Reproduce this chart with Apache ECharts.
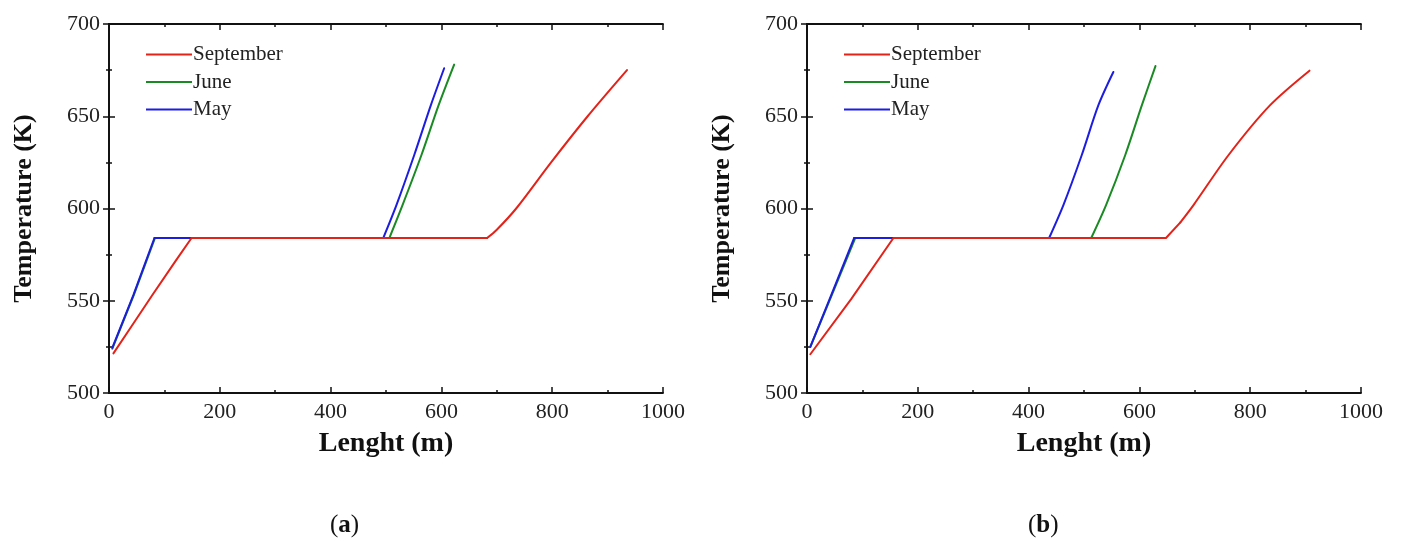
<!DOCTYPE html>
<html>
<head>
<meta charset="utf-8">
<script src="https://cdn.jsdelivr.net/npm/echarts@6/dist/echarts.min.js"></script>
<style>
  html, body { margin: 0; padding: 0; background: #fff; }
  #chart { width: 1402px; height: 541px; }
</style>
</head>
<body>
<div id="chart"></div>
<script>
// Temperature profile along the tube length, two cases (a) and (b)
const monthNames = ['September', 'June', 'May'];
const monthColors = ['#e2231a', '#1a8a24', '#1d1de0'];

// Panel (a)
const lenA_Sep = [8, 41, 78, 120, 149, 682.5, 700, 735, 798, 864, 935];
const tempA_Sep = [521.5, 536.3, 553, 571.5, 584, 584, 588.5, 600, 625, 650, 675];
const lenA_Jun = [6, 44, 83, 506, 530, 564, 595, 623];
const tempA_Jun = [524, 552.5, 584, 584, 602, 629, 656, 678];
const lenA_May = [6, 44, 82, 495, 519, 551, 581, 605];
const tempA_May = [524.5, 553, 584, 584, 602, 629, 656, 676];

// Panel (b)
const lenB_Sep = [6, 80, 156, 648, 674, 698, 761, 836, 907];
const tempB_Sep = [521, 551, 584, 584, 592.5, 602, 629, 656, 674.7];
const lenB_Jun = [6, 46, 87, 513, 540, 574.5, 604.5, 629];
const tempB_Jun = [525, 554, 584, 584, 602, 629, 656, 677.2];
const lenB_May = [6, 45, 85, 437, 463, 496, 526, 553];
const tempB_May = [525, 554, 584, 584, 602, 629, 656, 674];

// Axis ranges
const xMin = 0, xMax = 1000, xStep = 200;
const yMin = 500, yMax = 700, yStep = 50;
const xTitle = 'Lenght (m)';
const yTitle = 'Temperature (K)';
const panelTags = ['a', 'b'];

const zip = (xs, ys) => xs.map((x, i) => [x, ys[i]]);

// Split a profile into heating / saturation plateau / superheating parts,
// so the superheating curve can be smoothed while the plateau corners stay sharp.
function splitProfile(pts) {
  const plateau = Math.max(...pts.slice(0, Math.ceil(pts.length / 2)).map(p => p[1]));
  const first = pts.findIndex(p => p[1] === plateau);
  let last = first;
  while (last + 1 < pts.length && pts[last + 1][1] === plateau) last++;
  return [pts.slice(0, first + 1), pts.slice(first, last + 1), pts.slice(last)];
}

const panels = [
  { Sep: zip(lenA_Sep, tempA_Sep), Jun: zip(lenA_Jun, tempA_Jun), May: zip(lenA_May, tempA_May) },
  { Sep: zip(lenB_Sep, tempB_Sep), Jun: zip(lenB_Jun, tempB_Jun), May: zip(lenB_May, tempB_May) }
];

const serif = 'Liberation Serif';
const gridLefts = [109, 807];
const gridW = 554, gridTop = 24, gridH = 369;

const axisLine = { show: true, lineStyle: { color: '#111', width: 1.8 } };
const tick = { show: true, inside: true, length: 6, lineStyle: { color: '#111', width: 1.5 } };
const minor = { show: true, splitNumber: 2, length: 3, lineStyle: { color: '#111', width: 1.5 } };
const plain = v => String(v);

const grid = [], xAxis = [], yAxis = [], series = [], legend = [], graphic = [];

panels.forEach((p, k) => {
  grid.push({ left: gridLefts[k], top: gridTop, width: gridW, height: gridH, containLabel: false });

  xAxis.push({
    type: 'value', gridIndex: k, position: 'bottom', min: xMin, max: xMax, interval: xStep,
    axisLine, axisTick: tick, minorTick: minor, splitLine: { show: false },
    axisLabel: { fontFamily: serif, fontSize: 22, color: '#222', margin: 8, formatter: plain },
    name: xTitle, nameLocation: 'middle', nameGap: 37,
    nameTextStyle: { fontFamily: serif, fontWeight: 'bold', fontSize: 28, color: '#111' }
  });
  xAxis.push({
    type: 'value', gridIndex: k, position: 'top', min: xMin, max: xMax, interval: xStep,
    axisLine, axisTick: tick, minorTick: minor, splitLine: { show: false },
    axisLabel: { show: false }
  });
  yAxis.push({
    type: 'value', gridIndex: k, position: 'left', min: yMin, max: yMax, interval: yStep,
    axisLine, axisTick: tick, minorTick: minor, splitLine: { show: false },
    axisLabel: { fontFamily: serif, fontSize: 22, color: '#222', margin: 9, formatter: plain },
    name: yTitle, nameLocation: 'middle', nameGap: 72,
    nameTextStyle: { fontFamily: serif, fontWeight: 'bold', fontSize: 26, color: '#111' }
  });
  yAxis.push({
    type: 'value', gridIndex: k, position: 'right', min: yMin, max: yMax, interval: yStep,
    axisLine, axisTick: tick, minorTick: minor, splitLine: { show: false },
    axisLabel: { show: false }
  });

  const xi = k * 2, yi = k * 2;
  // drawing order: June, May, then September on top
  [['June', p.Jun, 1], ['May', p.May, 2], ['September', p.Sep, 0]].forEach(([name, data, c]) => {
    splitProfile(data).forEach((part, j) => {
      series.push({
        type: 'line', name, data: part, xAxisIndex: xi, yAxisIndex: yi,
        showSymbol: false, symbol: 'none',
        smooth: j === 2 ? 0.3 : false, silent: true,
        lineStyle: { color: monthColors[c], width: 2, cap: 'round', join: 'round' },
        itemStyle: { color: monthColors[c] }
      });
    });
  });

  legend.push({
    data: monthNames, orient: 'vertical', left: gridLefts[k] + 37, top: 44, padding: 0,
    icon: 'rect', itemWidth: 46, itemHeight: 2, itemGap: 6.5, itemTextGap: 0,
    selectedMode: false,
    textStyle: { fontFamily: serif, fontSize: 21, color: '#222', lineHeight: 21, padding: [0, 0, 0, -4] }
  });

  graphic.push({
    type: 'text', left: gridLefts[k] + gridW / 2 - 43 - 13, top: 513,
    style: {
      text: '({b|' + panelTags[k] + '})',
      font: '25px "' + serif + '"', fill: '#111',
      rich: { b: { fontFamily: serif, fontSize: 25, fontWeight: 'bold', fill: '#111' } }
    }
  });
});

const chart = echarts.init(document.getElementById('chart'), null, { renderer: 'canvas' });
chart.setOption({
  animation: false,
  backgroundColor: '#fff',
  grid, xAxis, yAxis, series, legend, graphic
});
</script>
</body>
</html>
